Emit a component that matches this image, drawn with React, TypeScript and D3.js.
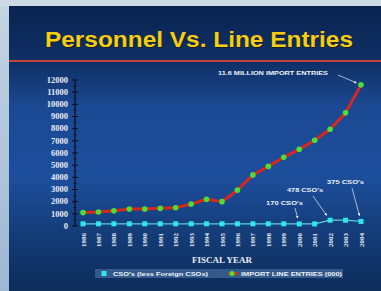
import React from "react";
import * as d3 from "d3";

const years = ["1986","1987","1988","1989","1990","1991","1992","1993","1994","1995","1996","1997","1998","1999","2000","2001","2002","2003","2004"];
const importEntries = [1100, 1150, 1250, 1400, 1400, 1450, 1500, 1800, 2200, 2000, 2950, 4200, 4900, 5650, 6300, 7050, 7950, 9300, 11600];
const csos = [180, 180, 180, 180, 180, 180, 180, 180, 180, 180, 180, 180, 180, 180, 170, 170, 478, 475, 375];
const yTicks = [0,1000,2000,3000,4000,5000,6000,7000,8000,9000,10000,11000,12000];
const annotations = [
  { text: "11.6 MILLION IMPORT ENTRIES", year: "2004", series: "imp", tx: 218, ty: 75, len: 110, ax1: 338, ay1: 75 },
  { text: "170 CSO's", year: "2000", series: "cso", tx: 266, ty: 205, len: 37, ax1: 295, ay1: 208 },
  { text: "478 CSO's", year: "2002", series: "cso", tx: 287, ty: 192, len: 36, ax1: 313, ay1: 196 },
  { text: "375 CSO's", year: "2004", series: "cso", tx: 327, ty: 184, len: 37, ax1: 352, ay1: 188 },
];

export default function App() {
  const x = d3.scalePoint<string>().domain(years).range([83, 361]);
  const y = d3.scaleLinear().domain([0, 12000]).range([226, 80]);
  const impLine = d3.line<number>().x((_, i) => x(years[i])!).y((d) => y(d));
  const csoLine = d3.line<number>().x((_, i) => x(years[i])!).y((d) => y(d));
  const serif = "'Liberation Serif', 'DejaVu Serif', serif";
  const sans = "'Liberation Sans', Arial, sans-serif";
  return (
    <svg width={381} height={291} style={{ position: "absolute", left: 0, top: 0 }}>
      <defs>
        <linearGradient id="bg" x1="0" y1="0" x2="0" y2="1">
          <stop offset="0" stopColor="#0a2450" />
          <stop offset="0.2" stopColor="#0f3066" />
          <stop offset="0.35" stopColor="#1b4892" />
          <stop offset="0.6" stopColor="#1d4e9c" />
          <stop offset="0.8" stopColor="#143c78" />
          <stop offset="1" stopColor="#0d2d5a" />
        </linearGradient>
        <linearGradient id="left" x1="0" y1="0" x2="0" y2="1">
          <stop offset="0" stopColor="#c4d4e2" />
          <stop offset="1" stopColor="#9cb8d4" />
        </linearGradient>
        <marker id="arr" viewBox="0 0 6 6" refX="5" refY="3" markerWidth="4" markerHeight="4" orient="auto">
          <path d="M0,0 L6,3 L0,6 z" fill="#e8eef8" />
        </marker>
      </defs>
      <rect x={0} y={0} width={381} height={291} fill="url(#left)" />
      <rect x={0} y={0} width={381} height={7} fill="#cdd9e4" />
      <rect x={9} y={6} width={372} height={285} fill="url(#bg)" />
      <text x={199} y={47} textAnchor="middle" fontFamily={sans} fontWeight="bold" fontSize={22}
        textLength={308} lengthAdjust="spacingAndGlyphs" fill="#1a1a10" opacity={0.7} dx={1} dy={1}>
        Personnel Vs. Line Entries
      </text>
      <text x={199} y={47} textAnchor="middle" fontFamily={sans} fontWeight="bold" fontSize={22}
        textLength={308} lengthAdjust="spacingAndGlyphs" fill="#f5cd12">
        Personnel Vs. Line Entries
      </text>
      <rect x={9} y={60} width={372} height={2} fill="#c8443a" />

      {/* y axis */}
      <line x1={75} x2={75} y1={y(12000)} y2={y(0)} stroke="#0a0f1e" strokeWidth={1.2} />
      {yTicks.map((t) => (
        <g key={t}>
          <line x1={72} x2={78} y1={y(t)} y2={y(t)} stroke="#0a0f1e" strokeWidth={1} />
          <text x={68} y={y(t) + 2.8} textAnchor="end" fontFamily={serif} fontWeight="bold" fontSize={8.5}
            fill="#e8ecf4">{t}</text>
        </g>
      ))}
      {yTicks.slice(0, -1).map((t) => (
        <line key={"m" + t} x1={73.5} x2={76.5} y1={y(t + 500)} y2={y(t + 500)} stroke="#0a0f1e" strokeWidth={0.8} />
      ))}

      {/* x labels */}
      {years.map((yr) => (
        <text key={yr} transform={`translate(${x(yr)! + 2.5},233) rotate(-90)`} textAnchor="end"
          fontFamily={serif} fontWeight="bold" fontSize={7} fill="#e8ecf4">{yr}</text>
      ))}
      <text x={222} y={263} textAnchor="middle" fontFamily={serif} fontWeight="bold" fontSize={9} fill="#e8ecf4">FISCAL YEAR</text>

      {/* CSO series */}
      <path d={csoLine(csos)!} fill="none" stroke="#5fd0d8" strokeWidth={1.2} />
      {csos.map((v, i) => (
        <rect key={i} x={x(years[i])! - 2.5} y={y(v) - 2.5} width={5} height={5} fill="#2ee6f0" />
      ))}

      {/* import series */}
      <path d={impLine(importEntries)!} fill="none" stroke="#d8281e" strokeWidth={3} />
      {importEntries.map((v, i) => (
        <circle key={i} cx={x(years[i])!} cy={y(v)} r={2.8} fill="#4be036" />
      ))}

      {/* annotations */}
      {annotations.map((a, i) => {
        const yr = a.year;
        const idx = years.indexOf(yr);
        const v = a.series === "imp" ? importEntries[idx] : csos[idx];
        const px = x(yr)!;
        const py = y(v);
        const dx = px - a.ax1, dy = py - a.ay1;
        const d = Math.sqrt(dx * dx + dy * dy);
        const off = a.series === "imp" ? 5 : 6;
        return (
          <g key={i}>
            <text x={a.tx} y={a.ty} fontFamily={sans} fontWeight="bold" fontSize={6} fill="#eef2fa"
              textLength={a.len} lengthAdjust="spacingAndGlyphs">{a.text}</text>
            <line x1={a.ax1} y1={a.ay1} x2={px - (dx / d) * off} y2={py - (dy / d) * off}
              stroke="#e8eef8" strokeWidth={0.7} markerEnd="url(#arr)" />
          </g>
        );
      })}

      {/* legend */}
      <rect x={95} y={269} width={248} height={9} fill="#3a6290" opacity={0.85} />
      <rect x={101.5} y={271} width={5} height={5} fill="#2ee6f0" />
      <text x={113} y={276} fontFamily={sans} fontWeight="bold" fontSize={6} fill="#eef2fa"
        textLength={95} lengthAdjust="spacingAndGlyphs">CSO's (less Foreign CSOs)</text>
      <line x1={228} x2={238} y1={273.5} y2={273.5} stroke="#d8281e" strokeWidth={3} />
      <circle cx={232} cy={273.5} r={2.6} fill="#4be036" />
      <text x={241} y={276} fontFamily={sans} fontWeight="bold" fontSize={6} fill="#eef2fa"
        textLength={101} lengthAdjust="spacingAndGlyphs">IMPORT LINE ENTRIES (000)</text>
    </svg>
  );
}
